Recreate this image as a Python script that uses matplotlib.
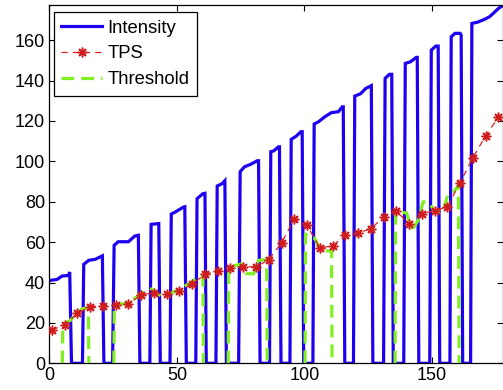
import numpy as np
import matplotlib
matplotlib.use("Agg")
import matplotlib.pyplot as plt

plt.rcParams['font.family'] = ['Liberation Sans', 'DejaVu Sans']

# ---- Intensity (square-wave like signal), polyline vertices ----
intensity_x = [0, 3, 5, 7.5, 8.0, 8.7, 13.0,
               13.5, 15.5, 18, 20.8, 21.4, 24.8,
               25.4, 27, 31, 33.5, 34.9, 35.5, 39.4,
               39.9, 42.9, 43.5, 47.3,
               47.8, 49.5, 52.5, 53.1, 53.7, 57.4,
               57.9, 60.2, 61.0, 61.5, 65.3,
               65.8, 67.8, 68.8, 69.4, 74.2,
               74.8, 76.5, 79, 81.5, 82.0, 82.6, 86.3,
               86.8, 88, 89.8, 90.2, 90.8, 94.3,
               94.8, 96.8, 98.6, 99.1, 99.7, 103.3,
               103.8, 105.5, 108, 110.5, 113.3, 114.8, 115.2, 115.8, 119.2,
               119.7, 122, 124, 126.2, 126.8, 131.0,
               131.6, 133.3, 134.2, 134.8, 138.9,
               139.5, 141.5, 143.8, 144.2, 144.8, 149.1,
               149.7, 151.5, 152.4, 153.0, 157.0,
               157.5, 159, 161.0, 161.4, 162.0, 165.1,
               165.6, 168, 170.5, 172.5, 174, 176, 178]
intensity_y = [41, 41.5, 43.2, 43.5, 45.2, 0, 0,
               49, 51, 51.5, 53.2, 0, 0,
               58.4, 60.2, 60.2, 63, 63.4, 0, 0,
               68.8, 69.2, 0, 0,
               73.9, 75, 77.3, 77.5, 0, 0,
               81.5, 84, 84.2, 0, 0,
               87.8, 89, 90.4, 0, 0,
               94.9, 97.3, 98.6, 100.3, 100.3, 0, 0,
               104.8, 105.2, 107.2, 107.2, 0, 0,
               110.9, 112.5, 114.7, 114.7, 0, 0,
               118.5, 119.6, 122.1, 124.1, 124.6, 127, 127, 0, 0,
               132.3, 133.5, 136.1, 137.5, 0, 0,
               141.1, 143.1, 143.1, 0, 0,
               148.5, 149.3, 151.5, 151.5, 0, 0,
               155.1, 157.1, 157.1, 0, 0,
               161.7, 163.4, 163.4, 162.5, 0, 0,
               168.3, 169, 170.3, 171.6, 173.3, 175.7, 177.4]

# ---- TPS samples ----
tps_x = list(range(1, 177, 5))
tps_y = [16.5, 19.0, 24.7, 28.0, 28.4, 28.9, 29.3, 34.0, 34.8, 34.2,
         35.8, 39.2, 44.0, 45.9, 47.2, 47.8, 47.8, 51.3, 59.7, 71.4,
         68.3, 57.2, 58.1, 63.3, 64.4, 66.7, 72.3, 75.4, 69.0, 74.1,
         75.6, 77.4, 89.5, 101.8, 112.7, 121.8]

# ---- Threshold windows ----
thr_w1_x = [5.1, 5.3, 8, 11, 13, 15.3, 15.5]
thr_w1_y = [0, 19.5, 21, 25, 27, 27.5, 0]
thr_w2_x = [25.3, 25.5, 31, 35.5, 39.4, 41, 44, 49, 55, 58.4, 60.2, 60.4]
thr_w2_y = [0, 29, 29.7, 34.2, 37.1, 36, 33, 35.4, 39.6, 42.9, 43.5, 0]
thr_w3_x = [70.1, 70.3, 73, 75.5, 77, 80, 82, 85.2, 85.4]
thr_w3_y = [0, 47, 48.5, 49.2, 44.5, 44.2, 51, 51.3, 0]
thr_w4_x = [100.2, 100.4, 102, 104, 106, 108, 110.6, 110.8]
thr_w4_y = [0, 64, 62, 62, 56.5, 55.8, 55.5, 0]
thr_w5_x = [135.5, 135.7, 140, 141.8, 143, 144.6, 146.5, 149, 151, 154.3, 156.3, 158.5, 160.3, 160.6]
thr_w5_y = [0, 75, 74.5, 67, 67.5, 71, 80, 79.5, 75, 75, 84, 85, 88, 0]

thr_x, thr_y = [], []
for wx, wy in [(thr_w1_x, thr_w1_y), (thr_w2_x, thr_w2_y), (thr_w3_x, thr_w3_y),
               (thr_w4_x, thr_w4_y), (thr_w5_x, thr_w5_y)]:
    thr_x += wx + [np.nan]
    thr_y += wy + [np.nan]

x_ticks = [0, 50, 100, 150]
y_ticks = list(range(0, 161, 20))

fig = plt.figure(figsize=(5.03, 3.90), dpi=100)
ax = fig.add_axes([0.098, 0.0685, 0.9015, 0.9185])

ax.plot(intensity_x, intensity_y, color='#1e00f0', lw=2.3, label='Intensity', zorder=2,
        solid_joinstyle='miter')
ax.plot(thr_x, thr_y, color='#80f020', lw=2.3, ls=(0, (4, 2.2)), label='Threshold', zorder=3)
ax.plot(tps_x, tps_y, color='#dd2020', lw=0.9, ls=(0, (5, 4)), marker=(8, 2, 0),
        markersize=7, markeredgewidth=1.1, markeredgecolor='#d01c1c', label='TPS', zorder=4)

ax.set_xlim(0, 177.7)
ax.set_ylim(0, 177.4)
ax.set_xticks(x_ticks)
ax.set_yticks(y_ticks)
ax.tick_params(direction='in', top=True, right=True, length=4, width=0.8,
               labelsize=13, pad=3, colors='black')
for s in ax.spines.values():
    s.set_linewidth(0.9)

h, l = ax.get_legend_handles_labels()
order = [0, 2, 1]
leg = ax.legend([h[i] for i in order], [l[i] for i in order], loc='upper left',
                bbox_to_anchor=(0.0103, 0.98), borderaxespad=0, fontsize=13.3,
                fancybox=False, framealpha=1, edgecolor='black', handlelength=2.2,
                handletextpad=0.3, labelspacing=0.48, borderpad=0.4)
leg.get_frame().set_linewidth(0.9)

fig.savefig('out.png', dpi=100)
